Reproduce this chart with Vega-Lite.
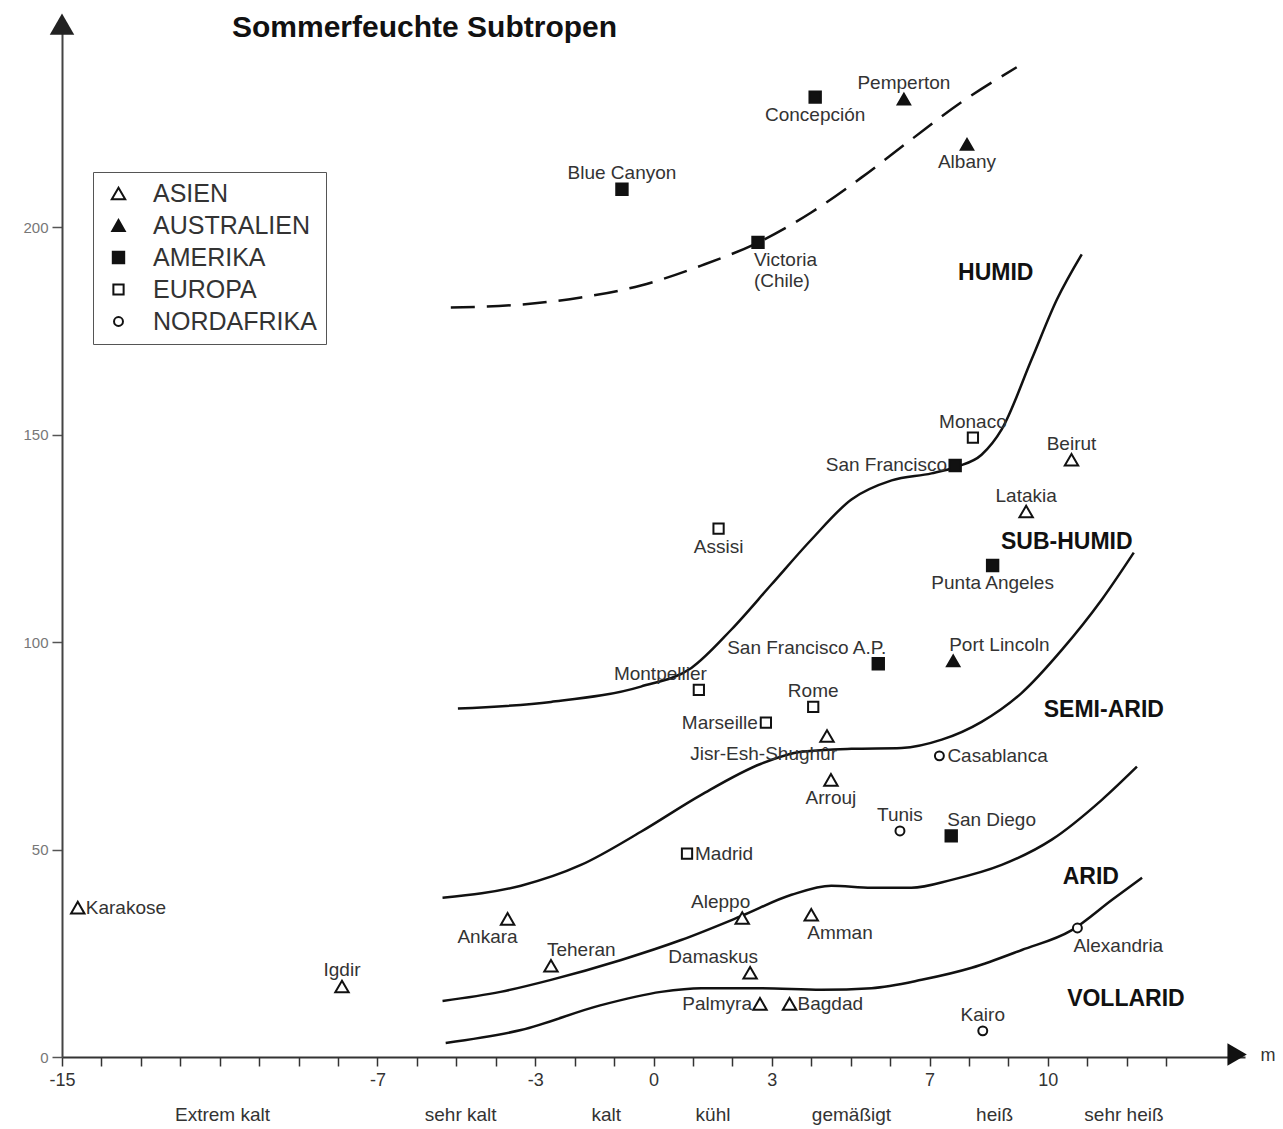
{
  "$schema": "https://vega.github.io/schema/vega-lite/v6.json",
  "width": 1183,
  "height": 1037,
  "autosize": {"type": "none"},
  "padding": {"left": 62, "top": 20, "right": 38, "bottom": 72},
  "background": "white",
  "config": {
    "view": {"stroke": null},
    "font": "Liberation Sans",
    "axisX": {
      "grid": false,
      "tickSize": 9, "tickColor": "#333", "tickWidth": 1.5,
      "domainColor": "#333", "domainWidth": 2,
      "labelFontSize": 18, "labelColor": "#333", "labelPadding": 5,
      "labelFlush": false, "labelOverlap": false
    },
    "axisY": {
      "grid": false,
      "tickSize": 10, "tickColor": "#555", "tickWidth": 1.5,
      "domainColor": "#444", "domainWidth": 2,
      "labelFontSize": 15, "labelColor": "#777", "labelPadding": 4
    },
    "legend": {
      "orient": "none",
      "legendX": 31,
      "legendY": 152,
      "title": null,
      "strokeColor": "#555",
      "fillColor": "white",
      "padding": 9,
      "labelFont": "Liberation Sans",
      "labelFontSize": 25,
      "labelColor": "#333",
      "labelOffset": 22,
      "labelLimit": 400,
      "rowPadding": 6,
      "symbolOffset": 4,
      "symbolStrokeWidth": 2
    }
  },
  "title": {
    "text": "Sommerfeuchte Subtropen",
    "anchor": "start",
    "frame": "group",
    "offset": 0,
    "dx": 170,
    "dy": 53,
    "baseline": "alphabetic",
    "fontSize": 30,
    "font": "Liberation Sans",
    "fontWeight": "bold",
    "color": "#111"
  },
  "datasets": {
    "stations": [
      {"name": "Karakose", "kontinent": "ASIEN", "x": -14.6, "y": 36, "pos": "e"},
      {"name": "Igdir", "kontinent": "ASIEN", "x": -7.9, "y": 17, "pos": "n"},
      {"name": "Ankara", "kontinent": "ASIEN", "x": -3.7, "y": 33.3, "pos": "sw"},
      {"name": "Teheran", "kontinent": "ASIEN", "x": -2.6, "y": 22, "pos": "ne"},
      {"name": "Aleppo", "kontinent": "ASIEN", "x": 2.25, "y": 33.5, "pos": "nw"},
      {"name": "Damaskus", "kontinent": "ASIEN", "x": 2.45, "y": 20.3, "pos": "nw"},
      {"name": "Palmyra", "kontinent": "ASIEN", "x": 2.7, "y": 12.8, "pos": "w"},
      {"name": "Bagdad", "kontinent": "ASIEN", "x": 3.45, "y": 12.8, "pos": "e"},
      {"name": "Amman", "kontinent": "ASIEN", "x": 4.0, "y": 34.3, "pos": "se"},
      {"name": "Jisr-Esh-Shughûr", "kontinent": "ASIEN", "x": 4.4, "y": 77.4, "pos": "sw"},
      {"name": "Arrouj", "kontinent": "ASIEN", "x": 4.5, "y": 66.8, "pos": "s"},
      {"name": "Latakia", "kontinent": "ASIEN", "x": 9.45, "y": 131.5, "pos": "n"},
      {"name": "Beirut", "kontinent": "ASIEN", "x": 10.6, "y": 144, "pos": "n"},
      {"name": "Port Lincoln", "kontinent": "AUSTRALIEN", "x": 7.6, "y": 95.5, "pos": "ne"},
      {"name": "Pemperton", "kontinent": "AUSTRALIEN", "x": 6.35, "y": 230.9, "pos": "n"},
      {"name": "Albany", "kontinent": "AUSTRALIEN", "x": 7.95, "y": 220, "pos": "s"},
      {"name": "Blue Canyon", "kontinent": "AMERIKA", "x": -0.8, "y": 209.2, "pos": "n"},
      {"name": "Victoria\n(Chile)", "kontinent": "AMERIKA", "x": 2.65, "y": 196.4, "pos": "se"},
      {"name": "Concepción", "kontinent": "AMERIKA", "x": 4.1, "y": 231.4, "pos": "s"},
      {"name": "San Francisco", "kontinent": "AMERIKA", "x": 7.65, "y": 142.6, "pos": "w"},
      {"name": "Punta Angeles", "kontinent": "AMERIKA", "x": 8.6, "y": 118.5, "pos": "s"},
      {"name": "San Francisco A.P.", "kontinent": "AMERIKA", "x": 5.7, "y": 94.8, "pos": "nw"},
      {"name": "San Diego", "kontinent": "AMERIKA", "x": 7.55, "y": 53.3, "pos": "ne"},
      {"name": "Assisi", "kontinent": "EUROPA", "x": 1.65, "y": 127.4, "pos": "s"},
      {"name": "Monaco", "kontinent": "EUROPA", "x": 8.1, "y": 149.3, "pos": "n"},
      {"name": "Montpellier", "kontinent": "EUROPA", "x": 1.15, "y": 88.5, "pos": "nw"},
      {"name": "Marseille", "kontinent": "EUROPA", "x": 2.85, "y": 80.6, "pos": "w"},
      {"name": "Rome", "kontinent": "EUROPA", "x": 4.05, "y": 84.4, "pos": "n"},
      {"name": "Madrid", "kontinent": "EUROPA", "x": 0.85, "y": 49, "pos": "e"},
      {"name": "Casablanca", "kontinent": "NORDAFRIKA", "x": 7.25, "y": 72.6, "pos": "e"},
      {"name": "Tunis", "kontinent": "NORDAFRIKA", "x": 6.25, "y": 54.5, "pos": "n"},
      {"name": "Alexandria", "kontinent": "NORDAFRIKA", "x": 10.75, "y": 31.1, "pos": "se"},
      {"name": "Kairo", "kontinent": "NORDAFRIKA", "x": 8.35, "y": 6.3, "pos": "n"}
    ],
    "curves": [
      {"kurve": "A", "x": -5.14, "y": 180.7},
      {"kurve": "A", "x": -3.36, "y": 181.4},
      {"kurve": "A", "x": -1.84, "y": 183.1},
      {"kurve": "A", "x": -0.32, "y": 186},
      {"kurve": "A", "x": 1.21, "y": 190.8},
      {"kurve": "A", "x": 2.66, "y": 196.4},
      {"kurve": "A", "x": 4.0, "y": 203.6},
      {"kurve": "A", "x": 5.27, "y": 212},
      {"kurve": "A", "x": 6.54, "y": 221.2},
      {"kurve": "A", "x": 7.81, "y": 230.2},
      {"kurve": "A", "x": 9.21, "y": 238.6},
      {"kurve": "B", "x": -4.96, "y": 84},
      {"kurve": "B", "x": -2.6, "y": 85.6},
      {"kurve": "B", "x": -0.32, "y": 89.3},
      {"kurve": "B", "x": 0.96, "y": 93.8},
      {"kurve": "B", "x": 1.97, "y": 103},
      {"kurve": "B", "x": 2.99, "y": 113.9},
      {"kurve": "B", "x": 4.0, "y": 124.7},
      {"kurve": "B", "x": 5.02, "y": 134.4},
      {"kurve": "B", "x": 6.04, "y": 139},
      {"kurve": "B", "x": 7.05, "y": 140.7},
      {"kurve": "B", "x": 7.69, "y": 142.3},
      {"kurve": "B", "x": 8.32, "y": 145.2},
      {"kurve": "B", "x": 8.83, "y": 151.3},
      {"kurve": "B", "x": 9.59, "y": 168.2},
      {"kurve": "B", "x": 10.23, "y": 182.6},
      {"kurve": "B", "x": 10.86, "y": 193.5},
      {"kurve": "C", "x": -5.35, "y": 38.4},
      {"kurve": "C", "x": -3.36, "y": 41.3},
      {"kurve": "C", "x": -1.84, "y": 46.3},
      {"kurve": "C", "x": -0.32, "y": 54.3},
      {"kurve": "C", "x": 1.21, "y": 63.2},
      {"kurve": "C", "x": 2.73, "y": 70.7},
      {"kurve": "C", "x": 3.75, "y": 73.6},
      {"kurve": "C", "x": 5.02, "y": 74.3},
      {"kurve": "C", "x": 6.29, "y": 74.5},
      {"kurve": "C", "x": 7.31, "y": 76.5},
      {"kurve": "C", "x": 8.32, "y": 80.8},
      {"kurve": "C", "x": 9.34, "y": 87.8},
      {"kurve": "C", "x": 10.36, "y": 98.2},
      {"kurve": "C", "x": 11.37, "y": 110.3},
      {"kurve": "C", "x": 12.18, "y": 121.6},
      {"kurve": "D", "x": -5.35, "y": 13.5},
      {"kurve": "D", "x": -3.88, "y": 15.7},
      {"kurve": "D", "x": -2.6, "y": 18.6},
      {"kurve": "D", "x": -0.82, "y": 23.4},
      {"kurve": "D", "x": 0.7, "y": 28.2},
      {"kurve": "D", "x": 2.23, "y": 34},
      {"kurve": "D", "x": 3.5, "y": 39.1},
      {"kurve": "D", "x": 4.51, "y": 41.3},
      {"kurve": "D", "x": 5.53, "y": 40.8},
      {"kurve": "D", "x": 6.54, "y": 40.8},
      {"kurve": "D", "x": 7.56, "y": 42.7},
      {"kurve": "D", "x": 8.83, "y": 46.3},
      {"kurve": "D", "x": 10.1, "y": 52.4},
      {"kurve": "D", "x": 11.37, "y": 62},
      {"kurve": "D", "x": 12.26, "y": 70},
      {"kurve": "E", "x": -5.27, "y": 3.4},
      {"kurve": "E", "x": -3.36, "y": 6.5},
      {"kurve": "E", "x": -1.33, "y": 12.5},
      {"kurve": "E", "x": 0.19, "y": 15.7},
      {"kurve": "E", "x": 1.21, "y": 16.6},
      {"kurve": "E", "x": 2.73, "y": 16.6},
      {"kurve": "E", "x": 4.26, "y": 16.2},
      {"kurve": "E", "x": 5.53, "y": 16.6},
      {"kurve": "E", "x": 6.8, "y": 18.6},
      {"kurve": "E", "x": 8.07, "y": 21.5},
      {"kurve": "E", "x": 9.34, "y": 25.8},
      {"kurve": "E", "x": 10.61, "y": 30.6},
      {"kurve": "E", "x": 11.63, "y": 37.9},
      {"kurve": "E", "x": 12.39, "y": 43.2}
    ],
    "regions": [
      {"label": "HUMID", "x": 8.68, "y": 188.9},
      {"label": "SUB-HUMID", "x": 10.48, "y": 124.2},
      {"label": "SEMI-ARID", "x": 11.42, "y": 83.7},
      {"label": "ARID", "x": 11.09, "y": 43.4},
      {"label": "VOLLARID", "x": 11.98, "y": 14.0}
    ],
    "zones": [
      {"label": "Extrem kalt", "x": -10.93},
      {"label": "sehr kalt", "x": -4.89},
      {"label": "kalt", "x": -1.2},
      {"label": "kühl", "x": 1.51},
      {"label": "gemäßigt", "x": 5.02},
      {"label": "heiß", "x": 8.65},
      {"label": "sehr heiß", "x": 11.93}
    ]
  },
  "layer": [
    {
      "data": {"name": "curves"},
      "transform": [{"filter": "datum.kurve !== 'A'"}],
      "mark": {"type": "line", "interpolate": "monotone", "color": "#111", "strokeWidth": 2.5},
      "encoding": {
        "x": {
          "field": "x", "type": "quantitative",
          "scale": {"domain": [-15, 15], "nice": false, "zero": false},
          "axis": {
            "values": [-15, -14, -13, -12, -11, -10, -9, -8, -7, -6, -5, -4, -3, -2, -1, 0, 1, 2, 3, 4, 5, 6, 7, 8, 9, 10, 11, 12, 13],
            "labelExpr": "indexof([-15, -7, -3, 0, 3, 7, 10], datum.value) >= 0 ? replace(datum.label, '−', '-') : ''",
            "title": "m", "titleX": 1198, "titleY": -2,
            "titleAlign": "left", "titleBaseline": "middle", "titleAngle": 0,
            "titleFontWeight": "normal", "titleFontSize": 18, "titleColor": "#333"
          }
        },
        "y": {
          "field": "y", "type": "quantitative",
          "scale": {"domain": [0, 250], "nice": false, "zero": true},
          "axis": {
            "values": [0, 50, 100, 150, 200],
            "title": null
          }
        },
        "detail": {"field": "kurve"}
      }
    },
    {
      "data": {"name": "curves"},
      "transform": [{"filter": "datum.kurve === 'A'"}],
      "mark": {"type": "line", "interpolate": "monotone", "color": "#111", "strokeWidth": 2.5, "strokeDash": [24, 12]},
      "encoding": {
        "x": {"field": "x", "type": "quantitative"},
        "y": {"field": "y", "type": "quantitative"}
      }
    },
    {
      "data": {"values": [{}]},
      "mark": {"type": "point", "shape": "triangle-up", "filled": true, "color": "#222", "opacity": 1, "size": 600},
      "encoding": {
        "x": {"datum": -15, "type": "quantitative"},
        "y": {"datum": 249, "type": "quantitative"}
      }
    },
    {
      "data": {"values": [{}]},
      "mark": {"type": "point", "shape": "triangle-right", "filled": true, "color": "#111", "opacity": 1, "size": 500},
      "encoding": {
        "x": {"datum": 14.8, "type": "quantitative"},
        "y": {"datum": 0.6, "type": "quantitative"}
      }
    },
    {
      "data": {"name": "stations"},
      "mark": {"type": "point", "filled": true, "strokeWidth": 2, "opacity": 1},
      "encoding": {
        "x": {"field": "x", "type": "quantitative"},
        "y": {"field": "y", "type": "quantitative"},
        "shape": {
          "field": "kontinent", "type": "nominal",
          "scale": {"domain": ["ASIEN", "AUSTRALIEN", "AMERIKA", "EUROPA", "NORDAFRIKA"], "range": ["triangle-up", "triangle-up", "square", "square", "circle"]},
          "legend": {"title": null}
        },
        "fill": {
          "field": "kontinent", "type": "nominal",
          "scale": {"domain": ["ASIEN", "AUSTRALIEN", "AMERIKA", "EUROPA", "NORDAFRIKA"], "range": ["white", "#111", "#111", "white", "white"]},
          "legend": {"title": null}
        },
        "stroke": {
          "field": "kontinent", "type": "nominal",
          "scale": {"domain": ["ASIEN", "AUSTRALIEN", "AMERIKA", "EUROPA", "NORDAFRIKA"], "range": ["#111", "#111", "#111", "#111", "#111"]},
          "legend": {"title": null}
        },
        "size": {
          "field": "kontinent", "type": "nominal",
          "scale": {"domain": ["ASIEN", "AUSTRALIEN", "AMERIKA", "EUROPA", "NORDAFRIKA"], "range": [180, 80, 130, 150, 120]},
          "legend": {"title": null}
        }
      }
    },
    {
      "data": {"name": "stations"},
      "transform": [{"filter": "datum.pos === 'e'"}],
      "mark": {"type": "text", "align": "left", "baseline": "middle", "dx": 8, "fontSize": 19, "color": "#333"},
      "encoding": {
        "x": {"field": "x", "type": "quantitative"},
        "y": {"field": "y", "type": "quantitative"},
        "text": {"field": "name"}
      }
    },
    {
      "data": {"name": "stations"},
      "transform": [{"filter": "datum.pos === 'w'"}],
      "mark": {"type": "text", "align": "right", "baseline": "middle", "dx": -8, "fontSize": 19, "color": "#333"},
      "encoding": {
        "x": {"field": "x", "type": "quantitative"},
        "y": {"field": "y", "type": "quantitative"},
        "text": {"field": "name"}
      }
    },
    {
      "data": {"name": "stations"},
      "transform": [{"filter": "datum.pos === 'n'"}],
      "mark": {"type": "text", "align": "center", "baseline": "alphabetic", "dy": -10, "fontSize": 19, "color": "#333"},
      "encoding": {
        "x": {"field": "x", "type": "quantitative"},
        "y": {"field": "y", "type": "quantitative"},
        "text": {"field": "name"}
      }
    },
    {
      "data": {"name": "stations"},
      "transform": [{"filter": "datum.pos === 's'"}],
      "mark": {"type": "text", "align": "center", "baseline": "top", "dy": 9, "fontSize": 19, "color": "#333"},
      "encoding": {
        "x": {"field": "x", "type": "quantitative"},
        "y": {"field": "y", "type": "quantitative"},
        "text": {"field": "name"}
      }
    },
    {
      "data": {"name": "stations"},
      "transform": [{"filter": "datum.pos === 'ne'"}],
      "mark": {"type": "text", "align": "left", "baseline": "alphabetic", "dx": -4, "dy": -10, "fontSize": 19, "color": "#333"},
      "encoding": {
        "x": {"field": "x", "type": "quantitative"},
        "y": {"field": "y", "type": "quantitative"},
        "text": {"field": "name"}
      }
    },
    {
      "data": {"name": "stations"},
      "transform": [{"filter": "datum.pos === 'nw'"}],
      "mark": {"type": "text", "align": "right", "baseline": "alphabetic", "dx": 8, "dy": -10, "fontSize": 19, "color": "#333"},
      "encoding": {
        "x": {"field": "x", "type": "quantitative"},
        "y": {"field": "y", "type": "quantitative"},
        "text": {"field": "name"}
      }
    },
    {
      "data": {"name": "stations"},
      "transform": [{"filter": "datum.pos === 'se'"}],
      "mark": {"type": "text", "align": "left", "baseline": "top", "dx": -4, "dy": 9, "fontSize": 19, "color": "#333", "lineBreak": "\n"},
      "encoding": {
        "x": {"field": "x", "type": "quantitative"},
        "y": {"field": "y", "type": "quantitative"},
        "text": {"field": "name"}
      }
    },
    {
      "data": {"name": "stations"},
      "transform": [{"filter": "datum.pos === 'sw'"}],
      "mark": {"type": "text", "align": "right", "baseline": "top", "dx": 10, "dy": 9, "fontSize": 19, "color": "#333"},
      "encoding": {
        "x": {"field": "x", "type": "quantitative"},
        "y": {"field": "y", "type": "quantitative"},
        "text": {"field": "name"}
      }
    },
    {
      "data": {"name": "regions"},
      "mark": {"type": "text", "align": "center", "baseline": "middle", "fontSize": 23, "fontWeight": "bold", "color": "#111"},
      "encoding": {
        "x": {"field": "x", "type": "quantitative"},
        "y": {"field": "y", "type": "quantitative"},
        "text": {"field": "label"}
      }
    },
    {
      "data": {"name": "zones"},
      "mark": {"type": "text", "align": "center", "baseline": "middle", "fontSize": 19, "color": "#333"},
      "encoding": {
        "x": {"field": "x", "type": "quantitative"},
        "y": {"datum": -14, "type": "quantitative"},
        "text": {"field": "label"}
      }
    }
  ]
}
